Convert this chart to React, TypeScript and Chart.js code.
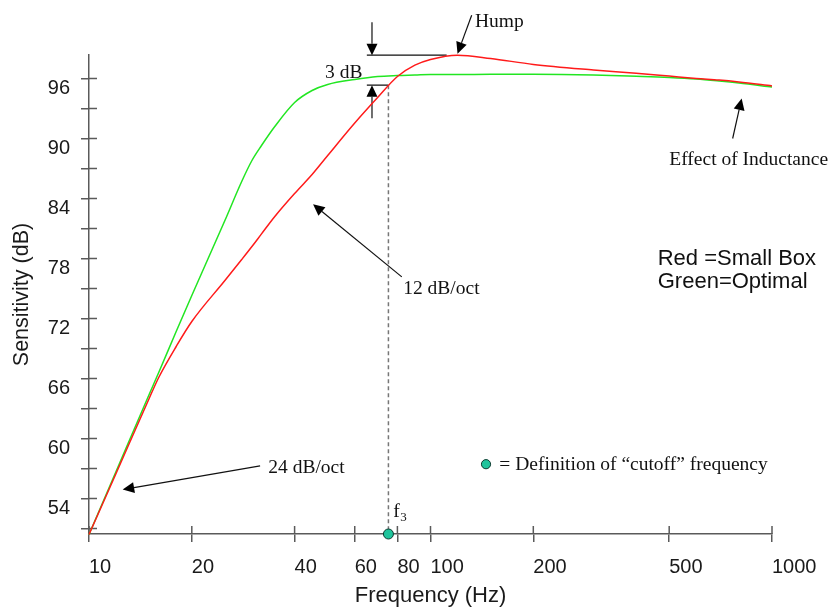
import React, { useEffect, useRef } from 'react';
import { Chart, registerables } from 'chart.js';

Chart.register(...registerables);

// ---------- data ----------
const frequencies = [10, 12, 15, 16, 18, 20, 25, 28, 30, 32, 35, 40, 45, 50, 60, 70, 80, 90, 100, 120, 150, 200, 300, 400, 500, 600, 700, 800, 1000];
const smallBoxDb = [50.4, 56.5, 64.0, 66.1, 69.2, 71.7, 75.8, 77.9, 79.2, 80.46, 82.2, 84.5, 86.4, 88.3, 91.55, 94.1, 96.2, 97.33, 97.9, 98.33, 98.0, 97.41, 96.86, 96.53, 96.24, 96.0, 95.84, 95.65, 95.26];
const optimalDb = [50.4, 56.7, 64.4, 66.6, 70.7, 74.3, 81.8, 85.7, 87.8, 89.3, 91.2, 93.6, 94.8, 95.4, 95.9, 96.2, 96.3, 96.35, 96.4, 96.4, 96.42, 96.42, 96.35, 96.22, 96.1, 95.95, 95.75, 95.55, 95.15];
const xTickValues = [10, 20, 40, 60, 80, 100, 200, 500, 1000];
const yTickValues = [51, 54, 57, 60, 63, 66, 69, 72, 75, 78, 81, 84, 87, 90, 93, 96];
const yLabelValues = [54, 60, 66, 72, 78, 84, 90, 96];
const yMin = 50.45;
const yMax = 98.35;
const cutoffFrequency = 75.3;
const humpDb = 98.33;
const cutoffDb = humpDb - 3;

// annotation texts (anchored in data coordinates: frequency, dB)
const serifNotes = [
  { text: 'Hump', f: 135, v: 101.13 },
  { text: '3 dB', f: 49.1, v: 96.03 },
  { text: '12 dB/oct', f: 83.2, v: 74.43 },
  { text: '24 dB/oct', f: 33.5, v: 56.53 },
  { text: 'Effect of Inductance', f: 500.3, v: 87.33 },
  { text: '= Definition of \u201Ccutoff\u201D frequency', f: 159.1, v: 56.83 },
];
const legendLines = [
  { text: 'Red =Small Box', f: 462.8, v: 77.33 },
  { text: 'Green=Optimal', f: 462.8, v: 75.03 },
];
const arrows = [
  { from: [132, 102.33], to: [120, 98.48] },
  { from: [67.4, 101.63], to: [67.4, humpDb] },
  { from: [67.4, 92.03], to: [67.4, cutoffDb] },
  { from: [82.4, 76.16], to: [45.3, 83.43] },
  { from: [31.7, 57.26], to: [12.55, 54.9] },
  { from: [767, 90.0], to: [815, 94.0] },
];
const levelLines = [
  { f1: 65.1, f2: 111.5, v: humpDb },
  { f1: 65.1, f2: cutoffFrequency, v: cutoffDb },
];
const legendDot = { f: 145.4, v: 57.43 };
const f3Label = { f: 77.8, v: 52.13 };

const AXIS_COLOR = '#5a5a5a';
const DOT_FILL = '#1fc49c';
const DOT_EDGE = '#0d3b30';

function drawArrow(ctx: CanvasRenderingContext2D, x1: number, y1: number, x2: number, y2: number) {
  const head = 11.5;
  const half = 5.5;
  const a = Math.atan2(y2 - y1, x2 - x1);
  const bx = x2 - head * Math.cos(a);
  const by = y2 - head * Math.sin(a);
  ctx.beginPath();
  ctx.moveTo(x1, y1);
  ctx.lineTo(bx, by);
  ctx.stroke();
  ctx.beginPath();
  ctx.moveTo(x2, y2);
  ctx.lineTo(bx + half * Math.sin(a), by - half * Math.cos(a));
  ctx.lineTo(bx - half * Math.sin(a), by + half * Math.cos(a));
  ctx.closePath();
  ctx.fill();
}

const notesPlugin = {
  id: 'notes',
  beforeDatasetsDraw(chart: any) {
    const ctx: CanvasRenderingContext2D = chart.ctx;
    const xs = chart.scales.x;
    const ys = chart.scales.y;
    const X = (f: number) => xs.getPixelForValue(f);
    const Y = (v: number) => ys.getPixelForValue(v);
    const area = chart.chartArea;
    ctx.save();
    // inner halves of the crossing ticks
    ctx.strokeStyle = AXIS_COLOR;
    ctx.lineWidth = 1.5;
    ctx.beginPath();
    for (const t of ys.ticks) {
      const y = Y(t.value);
      ctx.moveTo(area.left, y);
      ctx.lineTo(area.left + 8, y);
    }
    for (const t of xs.ticks) {
      const x = X(t.value);
      ctx.moveTo(x, area.bottom);
      ctx.lineTo(x, area.bottom - 8);
    }
    ctx.stroke();

    // dashed cutoff line
    ctx.strokeStyle = '#777';
    ctx.lineWidth = 1.5;
    ctx.setLineDash([4, 3]);
    ctx.beginPath();
    ctx.moveTo(X(cutoffFrequency), Y(cutoffDb));
    ctx.lineTo(X(cutoffFrequency), Y(yMin));
    ctx.stroke();
    ctx.setLineDash([]);

    // level lines for 3 dB
    ctx.strokeStyle = '#111';
    ctx.lineWidth = 1.2;
    ctx.beginPath();
    for (const l of levelLines) {
      ctx.moveTo(X(l.f1), Y(l.v));
      ctx.lineTo(X(l.f2), Y(l.v));
    }
    ctx.stroke();

    // arrows
    ctx.fillStyle = '#000';
    for (const a of arrows) {
      drawArrow(ctx, X(a.from[0]), Y(a.from[1]), X(a.to[0]), Y(a.to[1]));
    }

    // serif texts
    ctx.fillStyle = '#111';
    ctx.textAlign = 'left';
    ctx.textBaseline = 'alphabetic';
    ctx.font = '19.5px "Liberation Serif", "Times New Roman", serif';
    for (const n of serifNotes) {
      ctx.fillText(n.text, X(n.f), Y(n.v));
    }
    // f3
    const fx = X(f3Label.f);
    const fy = Y(f3Label.v);
    ctx.fillText('f', fx, fy);
    const fw = ctx.measureText('f').width;
    ctx.font = '13px "Liberation Serif", "Times New Roman", serif';
    ctx.fillText('3', fx + fw + 0.5, fy + 4);

    // sans legend text
    ctx.font = '22px "Liberation Sans", Arial, sans-serif';
    ctx.fillStyle = '#111';
    for (const l of legendLines) {
      ctx.fillText(l.text, X(l.f), Y(l.v));
    }

    // legend dot
    ctx.beginPath();
    ctx.arc(X(legendDot.f), Y(legendDot.v), 4.6, 0, Math.PI * 2);
    ctx.fillStyle = DOT_FILL;
    ctx.fill();
    ctx.strokeStyle = DOT_EDGE;
    ctx.lineWidth = 1;
    ctx.stroke();
    ctx.restore();
  },
};

export default function App() {
  const canvasRef = useRef<HTMLCanvasElement | null>(null);

  useEffect(() => {
    const canvas = canvasRef.current;
    if (!canvas) return;
    const tickFont = { family: '"Liberation Sans", Arial, sans-serif', size: 20 };
    const titleFont = { family: '"Liberation Sans", Arial, sans-serif', size: 22 };
    const chart = new Chart(canvas, {
      type: 'line',
      data: {
        datasets: [
          {
            label: 'Small Box',
            data: frequencies.map((f, i) => ({ x: f, y: smallBoxDb[i] })),
            borderColor: '#ff1a1a',
            borderWidth: 1.5,
            pointRadius: 0,
            cubicInterpolationMode: 'monotone',
            clip: false,
          } as any,
          {
            label: 'Optimal',
            data: frequencies.map((f, i) => ({ x: f, y: optimalDb[i] })),
            borderColor: '#22e622',
            borderWidth: 1.5,
            pointRadius: 0,
            cubicInterpolationMode: 'monotone',
            clip: false,
          } as any,
          {
            type: 'scatter',
            label: 'cutoff',
            data: [{ x: cutoffFrequency, y: yMin }],
            pointRadius: 5,
            pointBackgroundColor: DOT_FILL,
            pointBorderColor: DOT_EDGE,
            pointBorderWidth: 1,
            showLine: false,
            clip: false,
          } as any,
        ],
      },
      options: {
        responsive: false,
        animation: false,
        devicePixelRatio: 1,
        events: [],
        layout: { padding: { left: 0, top: 55, right: 59, bottom: 0 } },
        plugins: {
          legend: { display: false },
          tooltip: { enabled: false },
          title: { display: false },
        },
        scales: {
          x: {
            type: 'logarithmic',
            min: 10,
            max: 1000,
            position: 'bottom',
            afterBuildTicks: (s: any) => {
              s.ticks = xTickValues.map((v) => ({ value: v }));
            },
            afterFit: (s: any) => {
              s.height = 75;
            },
            ticks: {
              callback: (v: any) => String(v),
              align: 'start',
              padding: 13,
              font: tickFont,
              color: '#1a1a1a',
              autoSkip: false,
              maxRotation: 0,
            },
            grid: {
              display: true,
              drawOnChartArea: false,
              drawTicks: true,
              tickLength: 8,
              color: AXIS_COLOR,
              lineWidth: 1.5,
            },
            border: { display: true, color: AXIS_COLOR, width: 1.5 },
            title: {
              display: true,
              text: 'Frequency (Hz)',
              font: titleFont,
              color: '#1a1a1a',
              padding: { top: 0, bottom: 0 },
            },
          },
          y: {
            type: 'linear',
            min: yMin,
            max: yMax,
            afterBuildTicks: (s: any) => {
              s.ticks = yTickValues.map((v) => ({ value: v }));
            },
            afterFit: (s: any) => {
              s.width = 89;
            },
            ticks: {
              callback: (v: any) => (yLabelValues.includes(Number(v)) ? String(v) : ''),
              padding: 11,
              labelOffset: 10,
              font: tickFont,
              color: '#1a1a1a',
              autoSkip: false,
            },
            grid: {
              display: true,
              drawOnChartArea: false,
              drawTicks: true,
              tickLength: 8,
              color: AXIS_COLOR,
              lineWidth: 1.5,
            },
            border: { display: true, color: AXIS_COLOR, width: 1.5 },
            title: {
              display: true,
              text: 'Sensitivity (dB)',
              font: { family: '"Liberation Sans", Arial, sans-serif', size: 21.5 },
              color: '#1a1a1a',
              padding: { top: 9, bottom: 0 },
            },
          },
        },
      } as any,
      plugins: [notesPlugin],
    });
    return () => chart.destroy();
  }, []);

  return (
    <div style={{ position: 'absolute', left: 0, top: 0, width: 831, height: 609, background: '#fff' }}>
      <canvas ref={canvasRef} width={831} height={609} style={{ display: 'block' }} />
    </div>
  );
}
